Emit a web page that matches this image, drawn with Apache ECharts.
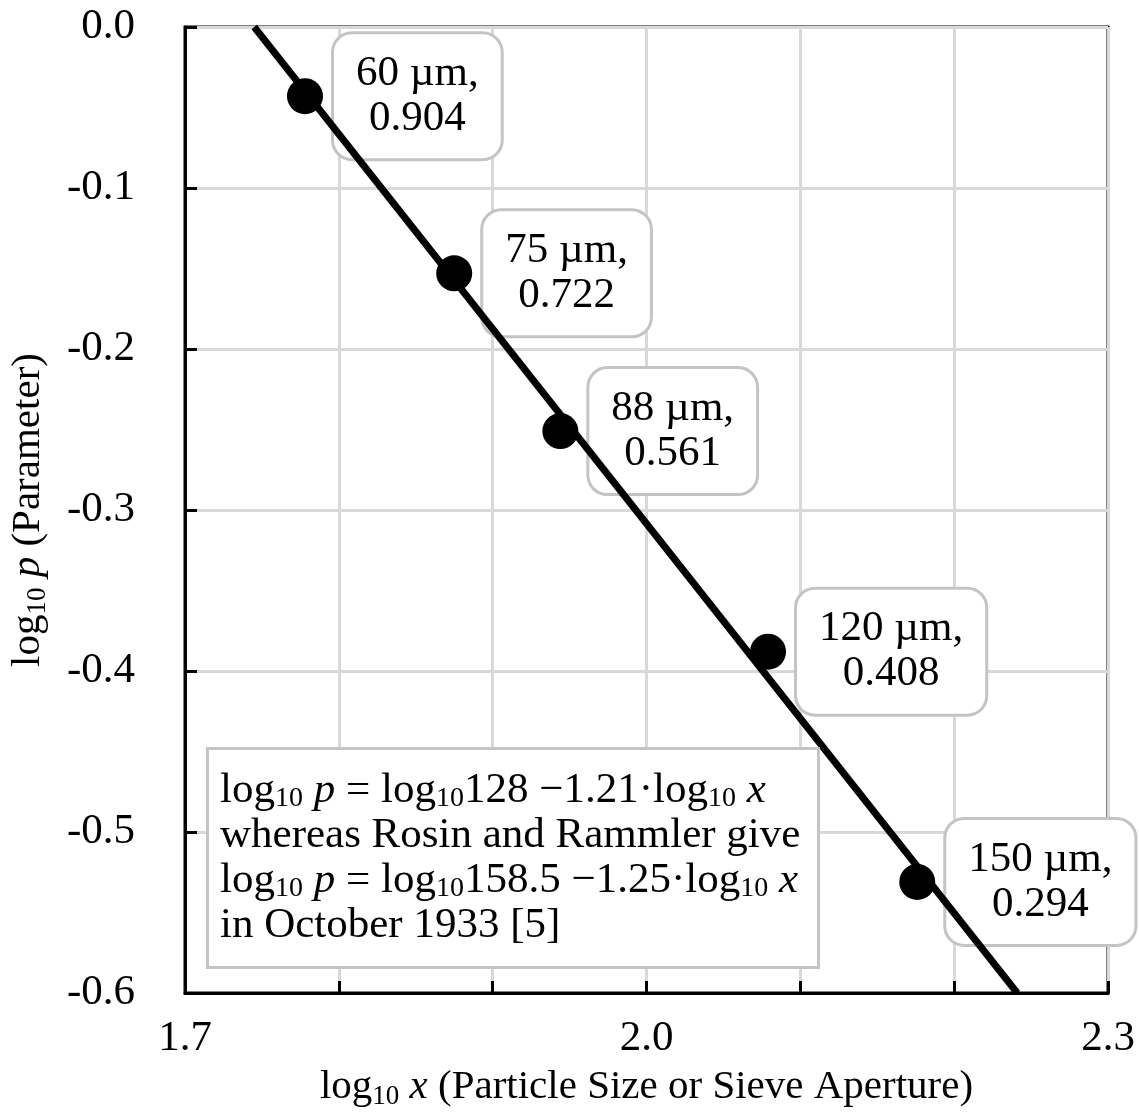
<!DOCTYPE html>
<html>
<head>
<meta charset="utf-8">
<script src="https://cdn.jsdelivr.net/npm/echarts@6/dist/echarts.min.js"></script>
<style>
  html, body { margin: 0; padding: 0; background: #fff; }
  #chart { width: 1139px; height: 1115px; }
</style>
</head>
<body>
<div id="chart"></div>
<script>
// sieve data (log10 of aperture in µm, log10 of parameter p)
const sizes = ['60', '75', '88', '120', '150'];
const pValues = ['0.904', '0.722', '0.561', '0.408', '0.294'];
const logX = [1.778, 1.875, 1.944, 2.079, 2.176];
const logP = [-0.043, -0.153, -0.251, -0.388, -0.531];
// fitted straight line, end points at the frame
const fitX = [1.745, 2.241];
const fitY = [0.0, -0.6];

const FONT = 'Liberation Serif';
const FS = 43;
const sub = { fontSize: 28, fontFamily: FONT, color: '#000', verticalAlign: 'bottom', lineHeight: 18 };
const ital = { fontSize: FS, fontFamily: FONT, fontStyle: 'italic', color: '#000' };
const norm = { fontSize: FS, fontFamily: FONT, color: '#000', lineHeight: 45 };
// axis titles slightly smaller
const subA = Object.assign({}, sub, { fontSize: 27 });
const italA = Object.assign({}, ital, { fontSize: 41 });
const normA = Object.assign({}, norm, { fontSize: 41 });

const chart = echarts.init(document.getElementById('chart'));

const option = {
  backgroundColor: '#fff',
  animation: false,
  grid: {
    left: 183, right: 31, top: 27, bottom: 122,
    show: true, borderColor: '#000', borderWidth: 3, backgroundColor: 'transparent'
  },
  title: {
    left: 207, top: 748,
    text: '{n|log}{s|10}{i| p}{n| = log}{s|10}{n|128 −1.21·log}{s|10}{i| x}\n' +
          '{n|whereas Rosin and Rammler give}\n' +
          '{n|log}{s|10}{i| p}{n| = log}{s|10}{n|158.5 −1.25·log}{s|10}{i| x}\n' +
          '{n|in October 1933 [5]}',
    backgroundColor: '#fff',
    borderColor: '#c4c4c4',
    borderWidth: 3,
    padding: [20, 18, 20, 13],
    textStyle: {
      fontFamily: FONT, fontSize: FS, fontWeight: 'normal', color: '#000', lineHeight: 45,
      rich: { n: norm, s: sub, i: ital }
    }
  },
  xAxis: {
    type: 'value',
    min: 1.7, max: 2.3, interval: 0.1,
    name: '{n|log}{s|10}{i| x}{n| (Particle Size or Sieve Aperture)}',
    nameLocation: 'middle',
    nameGap: 72,
    nameTextStyle: {
      fontFamily: FONT, fontSize: 41, color: '#000',
      rich: { n: normA, s: subA, i: italA }
    },
    axisLine: { show: true, onZero: false, lineStyle: { color: '#000', width: 3 } },
    axisTick: { show: true, inside: true, length: 12, lineStyle: { color: '#000', width: 3 } },
    axisLabel: {
      fontFamily: FONT, fontSize: FS, color: '#000', margin: 24,
      formatter: v => (Math.round(v * 10) % 3 === 2 ? v.toFixed(1) : '')
    },
    splitLine: { show: true, lineStyle: { color: '#d9d9d9', width: 3 } }
  },
  yAxis: {
    type: 'value',
    min: -0.6, max: 0, interval: 0.1,
    name: '{n|log}{s|10}{i| p}{n| (Parameter)}',
    nameLocation: 'middle',
    nameGap: 134,
    nameTextStyle: {
      fontFamily: FONT, fontSize: 41, color: '#000',
      rich: { n: normA, s: subA, i: italA }
    },
    axisLine: { show: true, onZero: false, lineStyle: { color: '#000', width: 3 } },
    axisTick: { show: true, inside: true, length: 12, lineStyle: { color: '#000', width: 3 } },
    axisLabel: {
      fontFamily: FONT, fontSize: FS, color: '#000', margin: 50,
      formatter: v => v.toFixed(1)
    },
    splitLine: { show: true, lineStyle: { color: '#d9d9d9', width: 3 } }
  },
  series: [
    {
      type: 'scatter',
      z: 2,
      symbol: 'circle',
      symbolSize: 36,
      itemStyle: { color: '#000', opacity: 1 },
      emphasis: { disabled: true },
      data: logX.map((x, i) => [x, logP[i]]),
      label: {
        show: true,
        position: 'right',
        distance: 11,
        opacity: 1,
        fontFamily: FONT,
        fontSize: FS,
        lineHeight: 45,
        color: '#000',
        backgroundColor: '#fff',
        borderColor: '#c4c4c4',
        borderWidth: 3,
        borderRadius: 18,
        padding: [17, 22, 17, 22],
        rich: { c: { fontSize: FS, fontFamily: FONT, color: '#000', lineHeight: 45, align: 'center' } },
        formatter: p => '{c|' + sizes[p.dataIndex] + ' µm,}\n{c|' + pValues[p.dataIndex] + '}'
      }
    },
    {
      type: 'line',
      z: 3,
      showSymbol: false,
      symbol: 'none',
      lineStyle: { color: '#000', width: 7 },
      emphasis: { disabled: true },
      data: fitX.map((x, i) => [x, fitY[i]])
    }
  ]
};

chart.setOption(option);
</script>
</body>
</html>
